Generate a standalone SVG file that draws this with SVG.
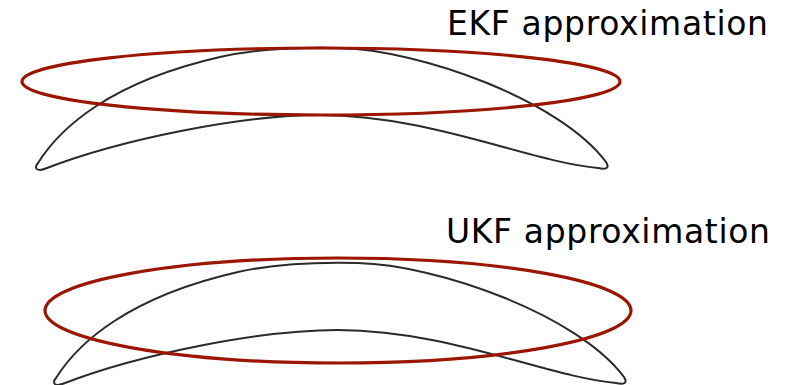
<svg xmlns="http://www.w3.org/2000/svg" xmlns:xlink="http://www.w3.org/1999/xlink" width="794" height="385" viewBox="0 0 794 385">
<style>
.banana{fill:none;stroke:#2a2a2a;stroke-width:2}
.approx{fill:none;stroke:#9a1600;stroke-width:3.2}
.label{font-family:"DejaVu Sans","Verdana",sans-serif;font-size:33px;fill:#000}
</style>
<defs>
<path id="banana" class="banana" d="M 38,163 C 60,128 110,82 220,57 C 260,48 300,47 340,48 C 420,50 560,100 606,162 C 610,168 606,170 598,168 C 530,162 430,115 320,115 C 240,115 120,140 47,168 C 38,172 33,169 38,163 Z"/>
</defs>
<g id="ekf">
<use id="ekf-true" xlink:href="#banana"/>
<ellipse id="ekf-ellipse" class="approx" cx="321" cy="81.5" rx="299" ry="33.5"/>
<text id="ekf-label" class="label" x="447" y="35" textLength="321" lengthAdjust="spacing">EKF approximation</text>
</g>
<g id="ukf">
<use id="ukf-true" xlink:href="#banana" transform="translate(18,215)"/>
<ellipse id="ukf-ellipse" class="approx" cx="338" cy="310.5" rx="293" ry="52.5"/>
<text id="ukf-label" class="label" x="446" y="243" textLength="324" lengthAdjust="spacing">UKF approximation</text>
</g>
</svg>
